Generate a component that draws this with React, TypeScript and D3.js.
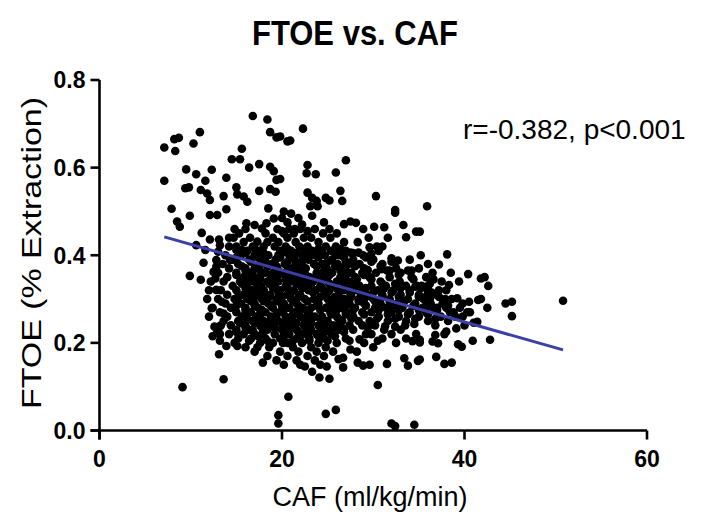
import React from "react";
import * as d3 from "d3";

const title = "FTOE vs. CAF";
const xLabel = "CAF (ml/kg/min)";
const yLabel = "FTOE (% Extraction)";
const annotation = "r=-0.382, p<0.001";
const xTicks = [0, 20, 40, 60];
const yTicks = [0.0, 0.2, 0.4, 0.6, 0.8];

// regression line end points [CAF, FTOE]
const fitLine: [number, number][] = [[7.1, 0.442], [50.8, 0.184]];

// sparse upper points
const upperPoints: [number, number][] = [
  [16.8,0.718],[18.4,0.710],[18.7,0.681],[19.4,0.669],[11.0,0.681],[8.7,0.668],[8.2,0.665],[7.1,0.646],[8.3,0.638],[10.3,0.655],
  [15.6,0.643],[14.5,0.619],[15.4,0.619],[16.4,0.600],[17.5,0.608],[18.7,0.602],[19.1,0.592],[9.5,0.596],[10.6,0.585],[12.3,0.595],
  [11.6,0.570],[7.1,0.570],[13.9,0.577],[9.4,0.553],[9.8,0.555],[11.1,0.549],[11.8,0.541],[12.1,0.526],[13.6,0.535],[15.0,0.555],
  [15.1,0.539],[15.8,0.534],[16.2,0.522],[17.5,0.547],[18.7,0.551],[19.3,0.545],[7.9,0.506],[19.4,0.572],[22.3,0.689],[20.6,0.660],
  [20.9,0.662],[19.8,0.671],[27.0,0.617],[22.8,0.606],[22.7,0.587],[23.7,0.585],[25.9,0.589],[19.8,0.574],[22.8,0.543],[23.3,0.531],
  [23.8,0.524],[24.8,0.531],[25.2,0.525],[26.4,0.547],[26.6,0.524],[30.3,0.535],[32.4,0.503],[35.9,0.512],[23.1,0.512],[23.9,0.512],
  [13.9,0.505],[18.5,0.507],[9.9,0.49],[12.1,0.492],[12.9,0.492],[8.5,0.477],[8.8,0.465],[11.2,0.451],[16.1,0.473],[17.0,0.469],
  [17.8,0.461],[18.3,0.473],[19.1,0.484],[32.4,0.497],[23.3,0.49],[26.8,0.471],[27.5,0.477],[28.1,0.474],[30.1,0.465],[31.2,0.464],
  [33.3,0.469],[34.7,0.454],[33.6,0.441],[35.1,0.454],[20.2,0.50],[21.0,0.495],[21.8,0.485],[20.6,0.475],[22.2,0.47],[21.4,0.46],
  [22.8,0.455],[20.0,0.455],[24.6,0.475],[20.0,0.485],
];

// left-side and right-side scattered points
const sidePoints: [number, number][] = [
  [12.1,0.436],[13.1,0.436],[13.2,0.423],[14.2,0.44],[17.3,0.431],[10.6,0.423],[11.6,0.412],[13.0,0.408],[12.8,0.389],[12.8,0.374],
  [11.4,0.383],[9.9,0.353],[11.1,0.344],[12.5,0.362],[12.7,0.347],[14.3,0.389],[15.0,0.412],[15.6,0.412],[12.8,0.321],[12.3,0.279],
  [13.4,0.294],[13.6,0.267],[24.4,0.406],[26.5,0.41],[27.5,0.406],[28.4,0.406],[29.6,0.418],[30.4,0.420],[29.8,0.404],[32.0,0.393],
  [32.7,0.388],[32.4,0.386],[29.4,0.366],[30.9,0.368],[31.5,0.365],[33.8,0.365],[35.5,0.328],[34.6,0.328],[35.9,0.309],
  [38.1,0.402],[37.2,0.379],[40.4,0.357],[41.8,0.347],[42.2,0.350],[42.6,0.330],[38.3,0.332],[39.2,0.302],[40.5,0.294],[41.5,0.298],
  [44.5,0.290],[45.2,0.294],[50.8,0.296],[45.2,0.261],[41.4,0.248],[41.0,0.246],[42.8,0.207],[40.9,0.205],[39.7,0.191],[39.3,0.197],
  [38.0,0.226],[39.1,0.233],[36.8,0.218],[36.5,0.203],[37.1,0.199],[35.1,0.207],[35.1,0.162],[36.9,0.168],[37.8,0.152],[38.6,0.155],
  [35.3,0.33],[36.0,0.33],[36.5,0.31],[37.2,0.32],[37.9,0.30],[35.5,0.30],[36.3,0.29],[37.0,0.28],[38.0,0.28],[38.8,0.27],
  [39.8,0.26],[35.8,0.27],[36.8,0.255],[38.2,0.25],[39.5,0.28],[40.3,0.27],
];

// sparse lower points
const lowerPoints: [number, number][] = [
  [13.9,0.193],[15.1,0.193],[13.1,0.174],[17.3,0.190],[17.9,0.155],[13.6,0.117],[9.1,0.099],[19.6,0.035],[19.6,0.016],[20.7,0.077],
  [24.8,0.038],[25.9,0.047],[32.0,0.016],[32.4,0.010],[34.5,0.013],[30.5,0.104],[24.1,0.121],[25.2,0.118],[22.5,0.146],[23.3,0.134],
  [24.2,0.15],[24.9,0.146],[26.7,0.144],[26.2,0.163],[26.7,0.166],[25.6,0.18],[27.5,0.185],[28.3,0.155],[28.9,0.148],[29.6,0.15],
  [31.5,0.152],[33.4,0.165],[33.8,0.148],[34.9,0.159],[28.5,0.208],[29.2,0.22],[30.5,0.205],[26.8,0.231],[20.1,0.20],[30.2,0.24],
  [31.3,0.238],[32.4,0.237],[33.5,0.24],[34.5,0.243],[34.3,0.204],[35.1,0.201],[34.7,0.22],[12.6,0.237],[13.3,0.24],[12.9,0.225],
  [12.4,0.215],[13.2,0.22],[13.2,0.205],[16.8,0.229],[17.9,0.225],[19.2,0.234],
];

// dense core, one row per FTOE level: [FTOE, CAF values...]
const coreRows: number[][] = [
  [0.46, 14.8,16.0,19.5,20.8,22.0,23.6,25.2,28.9],
  [0.45, 15.3,18.2,20.2,21.3,24.5,26.0],
  [0.44, 14.7,16.5,19.0,20.6,22.4,23.2,25.3,29.5,31.6],
  [0.43, 15.8,18.4,19.6,21.5,24.0,26.8,28.3],
  [0.42, 14.2,15.0,16.8,18.0,19.2,20.4,21.9,22.8,24.8,25.9,31.0],
  [0.41, 16.2,17.4,19.8,21.0,23.3,25.4,27.0,30.6],
  [0.40, 13.8,15.5,17.0,18.5,19.6,20.8,22.2,23.6,24.7,26.2,28.9,35.2],
  [0.39, 14.6,16.4,18.1,19.3,21.4,22.9,25.5,27.8,30.0,34.0],
  [0.38, 13.5,15.2,17.6,18.9,20.3,21.8,23.5,24.4,26.1,27.3,28.5,31.0,36.0],
  [0.37, 14.2,16.0,17.0,19.5,20.7,22.6,24.9,26.6,29.0,32.5,35.0],
  [0.36, 13.0,15.0,16.6,18.2,19.0,20.0,21.2,22.4,23.8,25.5,27.6,28.8,30.3,33.0,36.5,38.5],
  [0.35, 14.0,15.8,17.6,18.8,20.5,21.7,23.0,24.5,26.4,28.0,29.6,31.8,34.2,35.8],
  [0.34, 12.2,13.6,15.4,16.9,18.4,19.6,21.0,22.1,23.4,25.0,26.0,27.3,30.8,32.9,37.5,39.4],
  [0.33, 14.6,16.2,17.7,19.2,20.4,22.6,24.2,25.7,28.5,29.8,31.4,33.6,34.8],
  [0.32, 12.0,13.3,15.0,16.7,18.0,19.8,21.3,22.9,23.7,25.2,26.8,28.0,30.5,32.2,34.0,36.0,38.0],
  [0.31, 14.0,15.7,17.3,18.7,20.6,22.0,24.6,26.2,27.5,29.2,31.0,33.0,35.0,37.0],
  [0.30, 11.8,13.0,14.8,16.2,17.8,19.4,21.0,22.5,23.5,25.0,26.8,28.4,30.0,31.8,33.8,36.2,38.6,41.8],
  [0.29, 13.8,15.5,17.0,18.5,20.2,21.6,24.0,25.8,27.4,29.0,30.8,32.6,34.6,37.6,39.8],
  [0.28, 12.4,14.4,16.0,17.4,19.0,20.8,22.3,23.2,24.8,26.5,28.0,30.2,31.4,33.2,35.4,36.6,42.5],
  [0.27, 13.2,15.0,16.6,18.2,19.7,21.4,22.8,25.3,27.0,28.8,29.8,32.0,34.0,38.4,40.6],
  [0.26, 12.0,14.0,15.6,17.2,18.8,20.4,22.0,23.6,24.4,26.0,27.8,30.6,32.8,35.0,37.4,39.0],
  [0.25, 13.6,15.2,16.8,18.0,19.6,21.2,23.0,25.0,26.6,28.4,29.6,31.6,33.6,36.0],
  [0.24, 14.4,16.0,17.6,19.0,20.6,22.4,24.0,25.6,27.4,28.8,36.8,40.0],
  [0.23, 13.0,15.0,16.4,18.4,20.0,21.6,23.2,24.8,26.2,27.8,31.2,33.0],
  [0.22, 14.2,15.8,17.0,19.2,20.8,22.4,23.8,25.4,29.8,32.0,37.8],
  [0.21, 15.2,16.6,18.2,19.8,21.6,23.0,24.6,27.0,31.0,33.6],
  [0.20, 14.8,17.6,19.0,20.6,22.2,24.0,26.0,29.0,32.5],
  [0.19, 16.0,18.6,21.2,23.2,24.8,30.0],
  [0.18, 17.0,19.8,21.8,23.8,28.2],
  [0.17, 18.4,20.6,22.8,24.6],
  [0.16, 19.4,21.6,23.6],
  [0.15, 20.2,22.0],
];

// interleaved rows filling the darkest part of the cloud
const coreRowsFill: number[][] = [
  [0.415, 17.0,20.6,22.4,24.0,26.4],
  [0.405, 16.0,18.0,20.0,21.6,23.0,25.8,27.8],
  [0.395, 15.0,17.4,19.8,21.0,22.4,24.0,26.8,29.2],
  [0.385, 16.6,18.2,20.6,22.2,25.0,27.0,29.8,32.0],
  [0.375, 15.6,18.4,19.4,21.4,23.8,25.8,28.0,30.8],
  [0.365, 16.0,17.6,20.6,22.0,24.6,26.4,27.0,31.8,34.2],
  [0.355, 15.0,16.8,19.6,21.2,22.6,23.8,25.2,27.0,29.0,32.8],
  [0.345, 16.2,17.6,19.0,20.4,22.8,24.2,26.6,28.2,29.8,34.4,36.6],
  [0.335, 15.6,17.2,18.6,21.6,23.2,25.2,26.8,27.8,31.0,32.4,36.2],
  [0.325, 16.0,17.4,19.0,20.6,22.2,24.4,26.0,27.4,29.2,31.2,33.0,35.2],
  [0.315, 16.4,18.0,19.6,21.0,23.4,25.0,28.6,30.0,32.0,34.0,36.4],
  [0.305, 15.2,17.0,18.6,20.0,21.8,24.2,25.8,27.6,29.2,31.0,32.8,35.0,37.2],
  [0.295, 16.6,18.0,19.4,21.2,22.8,25.2,26.4,28.4,30.2,31.8,33.4,35.8],
  [0.285, 15.0,17.0,18.8,20.0,21.8,23.8,25.6,27.0,29.2,32.2,34.4,36.0,38.2],
  [0.275, 16.0,17.8,20.2,22.0,24.2,26.0,27.8,30.6,32.8,35.0,37.0],
  [0.265, 16.0,17.6,19.4,21.2,23.0,25.4,27.0,29.0,31.6,33.8,36.0],
  [0.255, 16.2,17.6,18.8,20.8,22.4,24.2,26.2,27.6,30.4,32.4,34.6],
  [0.245, 15.4,17.0,18.4,20.0,21.6,23.2,24.8,26.4,29.8],
  [0.235, 16.0,17.8,19.2,21.0,22.6,24.2,25.6,29.4],
  [0.225, 15.0,18.0,20.2,21.8,23.0,24.6,26.8],
  [0.215, 17.4,20.2,22.0,24.0,25.8],
  [0.205, 16.4,18.4,21.2,23.0,25.0,27.4],
];

const rowsToPoints = (rows: number[][]): [number, number][] =>
  rows.flatMap((row) => row.slice(1).map((c) => [c, row[0]] as [number, number]));

const allPoints = [
  ...upperPoints,
  ...sidePoints,
  ...lowerPoints,
  ...rowsToPoints(coreRows),
  ...rowsToPoints(coreRowsFill),
];

const W = 710;
const H = 527;
const font = "'Liberation Sans', Arial, sans-serif";

export default function App() {
  const x = d3.scaleLinear().domain([0, 60]).range([99.5, 647]);
  const y = d3.scaleLinear().domain([0, 0.8]).range([430.5, 80]);
  const line = d3
    .line<[number, number]>()
    .x((d) => x(d[0]))
    .y((d) => y(d[1]));

  return (
    <svg
      width={W}
      height={H}
      style={{ position: "absolute", left: 0, top: 0, background: "#fff" }}
    >
      <rect width={W} height={H} fill="#fff" />
      <text
        transform="translate(355,45) scale(1,1.12)"
        textAnchor="middle"
        fontFamily={font}
        fontWeight="bold"
        fontSize={31}
      >
        {title}
      </text>

      {/* points */}
      <g fill="#000">
        {allPoints.map((p, i) => (
          <circle key={i} cx={x(p[0])} cy={y(p[1])} r={4.3} />
        ))}
      </g>

      {/* regression line */}
      <path d={line(fitLine) || ""} stroke="#3b3fa8" strokeWidth={3} fill="none" />

      {/* axes */}
      <g stroke="#000" strokeWidth={2.6} fill="none">
        <line x1={x(0)} x2={x(0)} y1={y(0.8)} y2={y(0) + 9} />
        <line x1={x(0) - 9} x2={x(60)} y1={y(0)} y2={y(0)} />
        {yTicks.map((t) => (
          <line key={"yt" + t} x1={x(0) - 9} x2={x(0)} y1={y(t)} y2={y(t)} />
        ))}
        {xTicks.map((t) => (
          <line key={"xt" + t} x1={x(t)} x2={x(t)} y1={y(0)} y2={y(0) + 9} />
        ))}
      </g>
      <g fontFamily={font} fontWeight="bold" fontSize={23} fill="#000">
        {yTicks.map((t) => (
          <text key={"yl" + t} x={x(0) - 14} y={y(t)} dy="0.36em" textAnchor="end">
            {t.toFixed(1)}
          </text>
        ))}
        {xTicks.map((t) => (
          <text key={"xl" + t} x={x(t)} y={y(0) + 36} textAnchor="middle">
            {t}
          </text>
        ))}
      </g>
      <text x={370} y={506} textAnchor="middle" fontFamily={font} fontSize={27} fill="#000">
        {xLabel}
      </text>
      <text
        transform={`translate(41,253) rotate(-90)`}
        textAnchor="middle"
        fontFamily={font}
        fontSize={28}
        textLength={312}
        lengthAdjust="spacingAndGlyphs"
        fill="#000"
      >
        {yLabel}
      </text>
      <text x={463} y={139} fontFamily={font} fontSize={28} fill="#000">
        {annotation}
      </text>
    </svg>
  );
}
